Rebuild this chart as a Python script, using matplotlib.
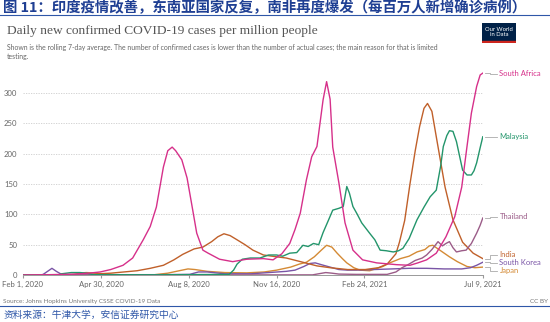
import matplotlib
matplotlib.use("Agg")
import matplotlib.pyplot as plt
import numpy as np

# days since Feb 1, 2020 and cases per million (7-day avg)
sa_days = [0, 30, 60, 75, 88, 100, 114, 125, 137, 145, 152, 160, 165, 170, 174, 181, 187, 192, 198, 205, 211,
           224, 239, 255, 274, 285, 295, 304, 310, 316, 323, 329, 335, 342, 346, 350, 353, 360, 367, 376, 387,
           403, 426, 441, 450, 460, 471, 482, 492, 500, 506, 511, 517, 521, 524]
sa_vals = [0, 0.5, 1.5, 3, 5, 9, 16, 28, 58, 80, 112, 178, 205, 211, 205, 190, 160, 119, 69, 41, 36,
           26, 22, 26, 27, 25, 35, 52, 75, 102, 157, 195, 212, 289, 319, 290, 211, 152, 86, 41, 25,
           20, 17, 16, 20, 25, 36, 63, 96, 145, 212, 267, 311, 330, 333]

my_days = [0, 40, 44, 55, 65, 73, 80, 150, 235, 240, 244, 250, 259, 270, 280, 289, 296, 304, 312, 319, 325,
           331, 337, 342, 348, 353, 360, 365, 369, 372, 376, 381, 386, 395, 401, 407, 414, 422, 428, 433, 440,
           449, 457, 464, 471, 476, 479, 483, 486, 490, 494, 501, 506, 511, 514, 517, 521, 524]
my_vals = [0, 0, 2, 4, 4, 3, 0.5, 0.3, 1, 8, 18, 26, 28, 28, 33, 33, 31, 36, 37, 49, 47,
           52, 50, 70, 90, 107, 110, 113, 146, 135, 113, 100, 86, 69, 58, 41, 40, 38, 40, 44, 60,
           91, 112, 129, 140, 180, 212, 230, 238, 237, 220, 173, 165, 165, 172, 185, 210, 228]

th_days = [0, 60, 75, 90, 330, 337, 345, 352, 360, 380, 415, 425, 432, 440, 447, 455, 460, 466, 473, 478,
           482, 486, 490, 494, 500, 505, 511, 517, 521, 524]
th_vals = [0, 0.5, 0.8, 0.2, 0.2, 2, 4, 3, 1.5, 1, 1, 5, 12, 18, 24, 28, 33, 42, 55, 48,
           52, 55, 45, 38, 40, 41, 52, 69, 82, 94]

in_days = [0, 40, 60, 80, 100, 115, 130, 145, 160, 172, 182, 195, 205, 215, 222, 229, 236, 244, 253, 262,
           274, 289, 300, 319, 335, 350, 370, 390, 405, 415, 425, 429, 435, 441, 447, 452, 457, 461, 466,
           471, 481, 490, 501, 513, 524]
in_vals = [0, 0.1, 0.5, 1.5, 3, 5, 7, 11, 16, 25, 34, 43, 46, 55, 63, 68, 65, 58, 50, 41,
           33, 30, 28, 21, 15, 12, 9, 9, 12, 18, 35, 54, 90, 150, 205, 245, 275, 283, 270,
           228, 145, 91, 54, 36, 27]

kr_days = [0, 20, 23, 28, 33, 38, 44, 55, 100, 150, 190, 200, 210, 230, 260, 280, 300, 310, 320, 327,
           333, 340, 350, 360, 370, 380, 400, 420, 440, 460, 480, 500, 510, 517, 524]
kr_vals = [0, 0, 1, 6, 11, 6, 1, 0.5, 0.5, 0.5, 1, 5, 5, 2, 2, 4, 6, 8, 14, 19,
           20, 17, 13, 9, 8, 8, 9, 10, 11, 11, 10, 10, 12, 16, 21]

jp_days = [0, 50, 58, 65, 72, 80, 90, 105, 150, 165, 178, 188, 196, 210, 230, 255, 275, 289, 305, 315,
           323, 332, 340, 346, 352, 358, 364, 369, 377, 384, 395, 410, 418, 430, 440, 449, 458, 463, 467,
           472, 479, 486, 495, 506, 515, 524]
jp_vals = [0, 0.2, 1, 3, 4, 3.5, 2, 0.5, 0.5, 3, 7, 10, 9, 6, 4, 3.5, 5, 8, 13, 18,
           21, 30, 41, 49, 46, 36, 27, 20, 12, 8, 7, 14, 20, 27, 31, 38, 42, 48, 49,
           44, 37, 30, 22, 14, 12, 13]

names = ["South Africa", "Malaysia", "Thailand", "India", "South Korea", "Japan"]
colors = ["#D6308A", "#23956B", "#9B5C88", "#C0602A", "#7A55A6", "#D48A35"]
label_y = [332, 228, 96, 33, 20, 7]

tick_dates = ["2020-02-01", "2020-04-30", "2020-08-08", "2020-11-16", "2021-02-24", "2021-07-09"]
tick_labels = ["Feb 1, 2020", "Apr 30, 2020", "Aug 8, 2020", "Nov 16, 2020", "Feb 24, 2021", "Jul 9, 2021"]
base = np.datetime64("2020-02-01")
tick_pos = [(np.datetime64(d) - base).astype(int) for d in tick_dates]

series = [(sa_days, sa_vals), (my_days, my_vals), (th_days, th_vals),
          (in_days, in_vals), (kr_days, kr_vals), (jp_days, jp_vals)]

plt.rcParams["font.family"] = ["Lato", "DejaVu Sans"]
fig = plt.figure(figsize=(5.5, 3.22), dpi=100)
ax = fig.add_axes([0.0418, 0.146, 0.836, 0.640])

# draw back to front (South Africa on top)
for (d, v), c in reversed(list(zip(series, colors))):
    ax.plot(d, v, color=c, linewidth=1.0, solid_joinstyle="round", zorder=3)

ax.set_xlim(0, 524)
ax.set_ylim(0, 340)
ax.set_yticks([0, 50, 100, 150, 200, 250, 300])
ax.set_xticks(tick_pos)
ax.set_xticklabels(tick_labels)
ax.tick_params(axis="x", length=2, color="#999999", labelsize=5.6, labelcolor="#666666", pad=2)
ax.tick_params(axis="y", length=0, labelsize=5.6, labelcolor="#666666", pad=4)
for s in ["top", "right", "left"]:
    ax.spines[s].set_visible(False)
ax.spines["bottom"].set_color("#999999")
ax.spines["bottom"].set_linewidth(0.7)
for yv in [50, 100, 150, 200, 250, 300]:
    ax.axhline(yv, color="#cccccc", linestyle=(0, (1.5, 1.5)), linewidth=0.6, zorder=1)

# end labels with connector lines
for (d, v), c, n, ly in zip(series, colors, names, label_y):
    ye = v[-1]
    ax.plot([527, 532, 532, 540], [ye, ye, ly, ly], color="#aaaaaa", linewidth=0.6, clip_on=False)
    ax.text(543, ly, n, color=c, fontsize=5.5, va="center", ha="left", clip_on=False)

# header
fig.text(0.006, 0.976, "图 11：印度疫情改善，东南亚国家反复，南非再度爆发（每百万人新增确诊病例）",
         family=["Noto Sans CJK SC", "DejaVu Sans"], fontweight="bold", fontsize=10.4,
         color="#1F3F93", va="center", ha="left")
fig.add_artist(plt.Line2D([0, 1], [0.952, 0.952], color="#2F57A8", linewidth=0.8))
fig.text(0.013, 0.903, "Daily new confirmed COVID-19 cases per million people",
         family=["Liberation Serif"], fontsize=9.6, color="#555555", va="center", ha="left")
fig.text(0.013, 0.862, "Shown is the rolling 7-day average. The number of confirmed cases is lower than the "
         "number of actual cases; the main reason for that is limited\ntesting.",
         fontsize=4.95, color="#666666", va="top", ha="left", linespacing=1.2)

# OWID logo
logo = fig.add_axes([482 / 550, 1 - 43 / 322, 34 / 550, 20 / 322])
logo.set_xlim(0, 1)
logo.set_ylim(0, 1)
logo.axis("off")
logo.add_patch(plt.Rectangle((0, 0.12), 1, 0.88, color="#002147"))
logo.add_patch(plt.Rectangle((0, 0), 1, 0.12, color="#CE261E"))
logo.text(0.5, 0.57, "Our World\nin Data", color="white", fontsize=4.2, ha="center", va="center",
          linespacing=1.0)

# footer
fig.text(0.006, 0.065, "Source: Johns Hopkins University CSSE COVID-19 Data", fontsize=4.6,
         color="#777777", va="center", ha="left")
fig.text(0.996, 0.065, "CC BY", fontsize=4.6, color="#777777", va="center", ha="right")
fig.add_artist(plt.Line2D([0, 1], [0.049, 0.049], color="#2F57A8", linewidth=0.8))
fig.text(0.006, 0.022, "资料来源：牛津大学，安信证券研究中心", family=["Noto Sans CJK SC", "DejaVu Sans"],
         fontsize=7, color="#2F57A8", va="center", ha="left")

fig.savefig("out.png", dpi=100)
